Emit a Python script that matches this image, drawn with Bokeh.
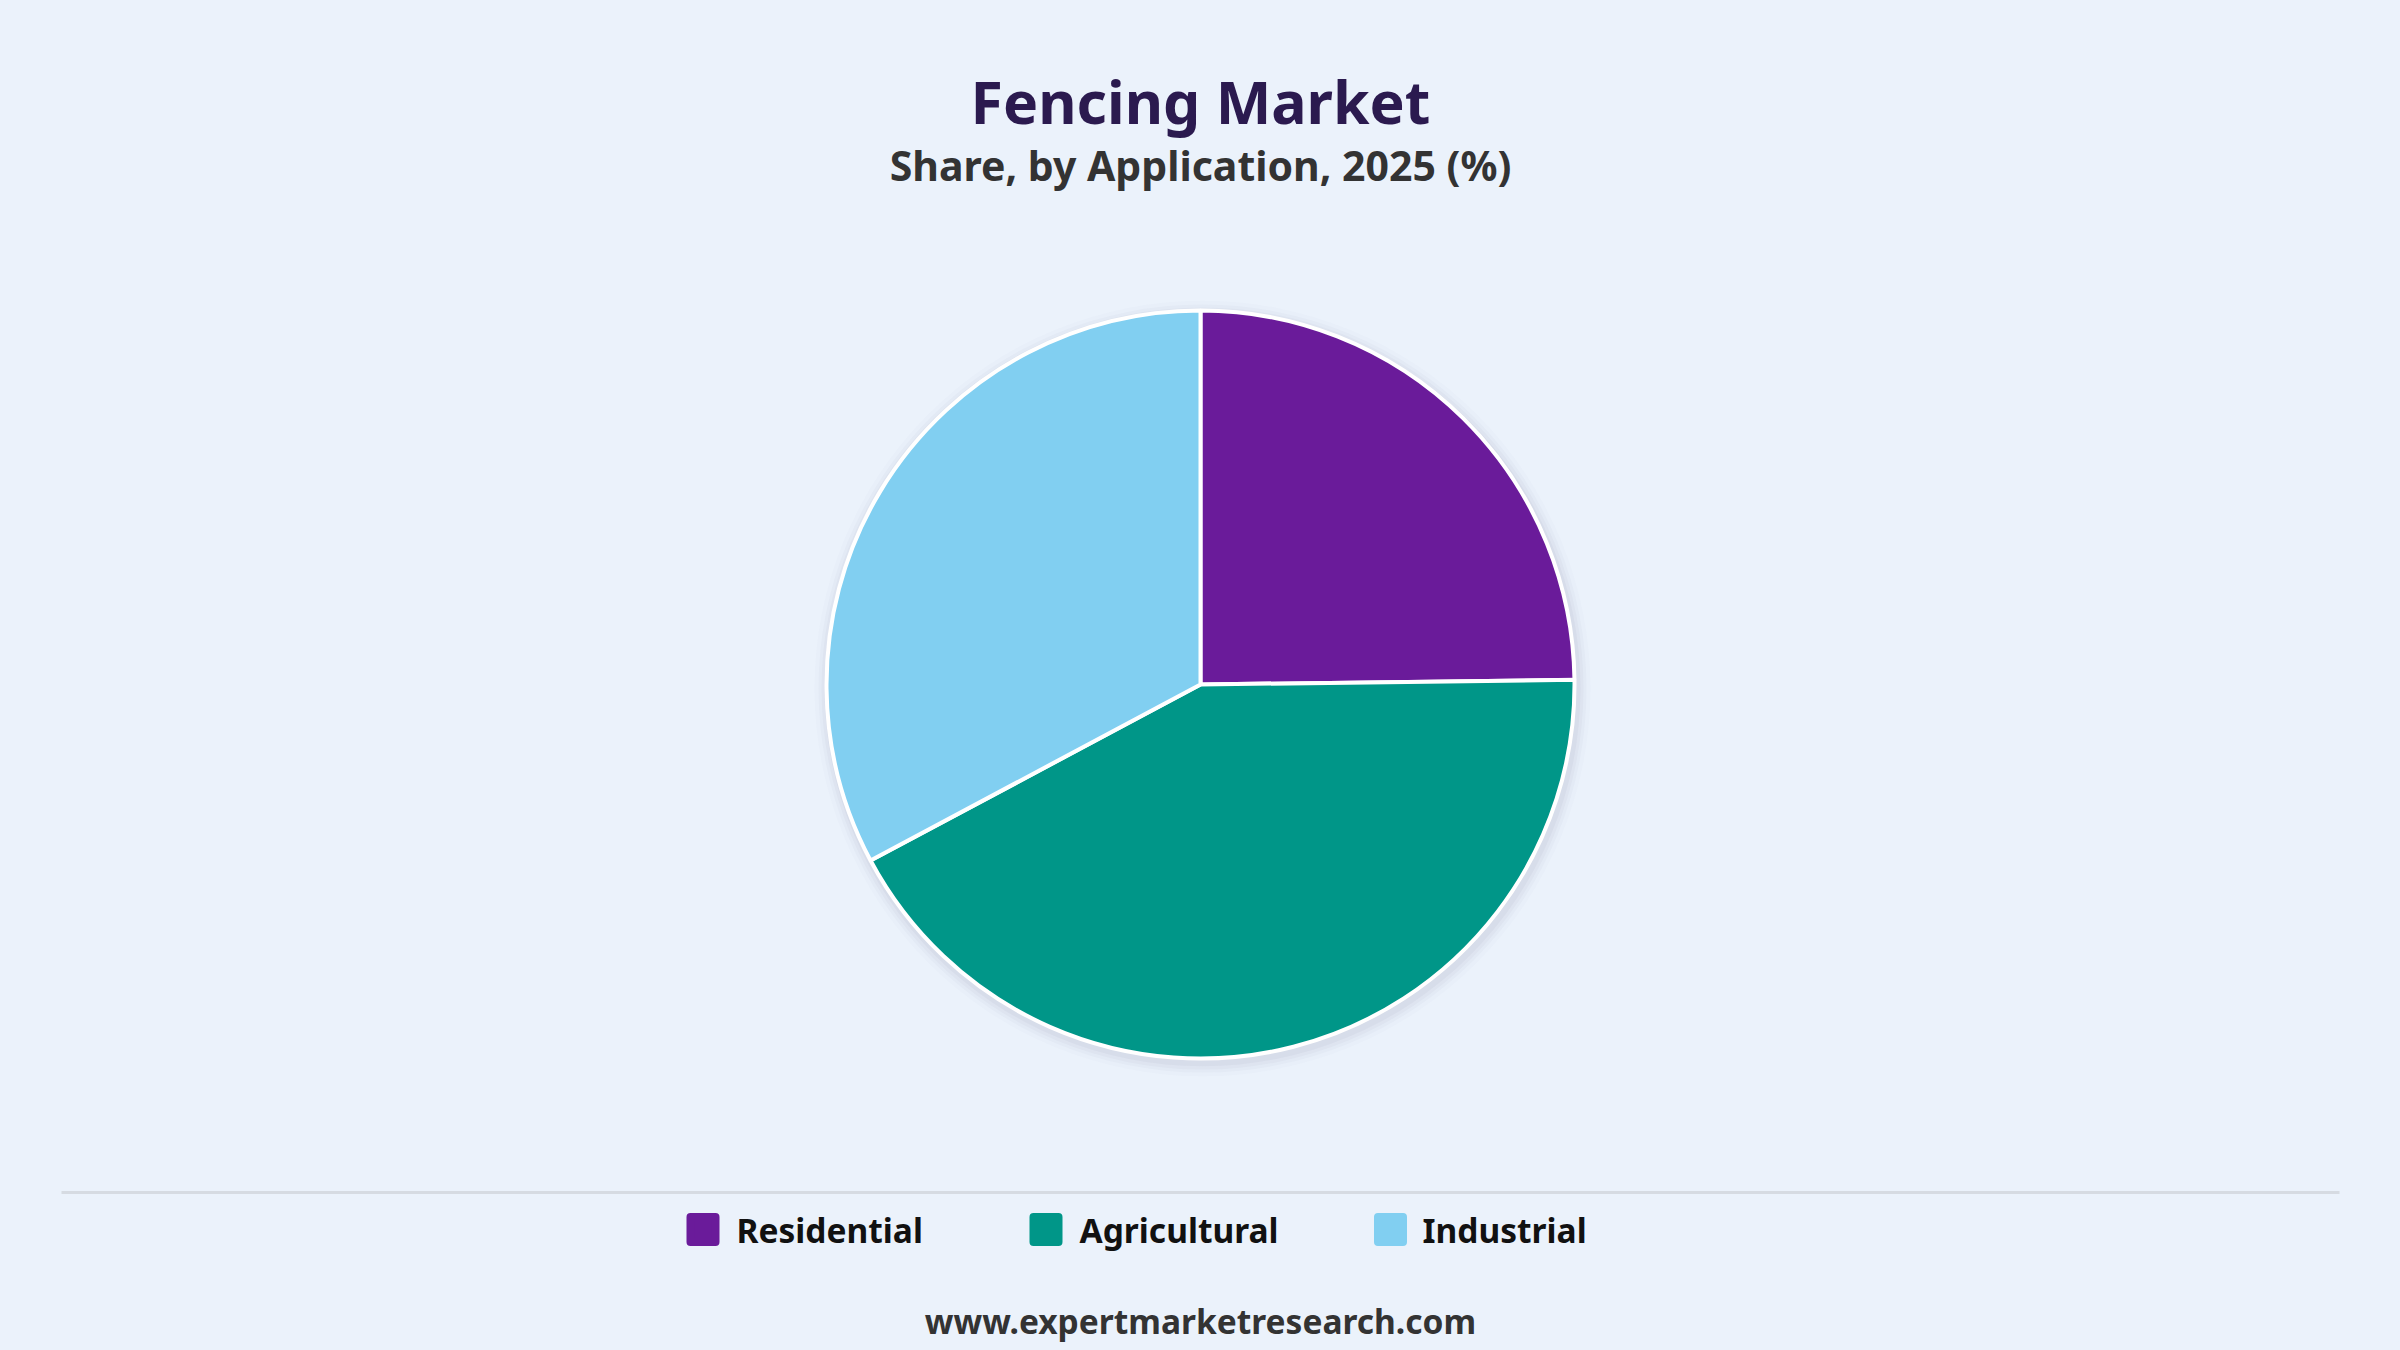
import numpy as np
from bokeh.plotting import figure
from bokeh.models import Range1d, ColumnDataSource
from bokeh.core.properties import value
from bokeh.embed import file_html
from bokeh.resources import INLINE

# ---- data ----
categories = ["Residential", "Agricultural", "Industrial"]
shares = [24.8, 42.4, 32.8]
colors = ["#6A1B9A", "#009688", "#81CFF1"]
title_text = "Fencing Market"
subtitle_text = "Share, by Application, 2025 (%)"
footer_text = "www.expertmarketresearch.com"

BG = "#EBF2FB"
FONT = "Noto Sans"
W, H = 2400, 1350

p = figure(width=W, height=H, x_range=Range1d(-8, W - 8), y_range=Range1d(-8, H - 8),
           output_backend="svg", toolbar_location=None, min_border=0)
p.axis.visible = False
p.grid.visible = False
p.outline_line_color = None
p.background_fill_color = BG
p.border_fill_color = BG

# ---- pie ----
cx, cy, r = 1192, 658, 374
frac = np.array(shares) / np.sum(shares)
cum = np.cumsum(frac)
start = np.pi / 2 - 2 * np.pi * (cum - frac)
end = np.pi / 2 - 2 * np.pi * cum
src = ColumnDataSource(dict(cat=categories, start=start, end=end, color=colors))

# soft shadow
for k, a in [(14, 0.02), (10, 0.03), (7, 0.04), (4, 0.05)]:
    p.circle(x=cx + 2, y=cy - 4, radius=r + k, fill_color="#5A6A80",
             fill_alpha=a, line_color=None)

p.wedge(x=cx, y=cy, radius=r, start_angle="start", end_angle="end",
        direction="clock", fill_color="color", line_color="white",
        line_width=4, source=src)

# ---- titles ----
p.text(x=[1192], y=[1242], text=[title_text], text_align="center",
       text_baseline="middle", text_font=value(FONT), text_font_style="bold",
       text_font_size="59px", text_color="#2B1A4F")
p.text(x=[1192], y=[1178], text=[subtitle_text], text_align="center",
       text_baseline="middle", text_font=value(FONT), text_font_style="bold",
       text_font_size="41px", text_color="#333333")

# ---- separator ----
p.line(x=[53, 2331], y=[150, 150], line_color="#D6DBE2", line_width=3)

# ---- legend ----
sw_x = [694.5, 1037.5, 1382]
tx_x = [728, 1071, 1414]
ly = 113
p.rect(x=sw_x, y=[ly] * 3, width=25, height=25, fill_color=colors,
       line_color=colors, line_width=8, line_join="round")
p.text(x=tx_x, y=[ly] * 3, text=categories, text_align="left",
       text_baseline="middle", text_font=value(FONT), text_font_style="bold",
       text_font_size="33.5px", text_color="#111111")

# ---- footer ----
p.text(x=[1192], y=[22], text=[footer_text], text_align="center",
       text_baseline="alphabetic", text_font=value(FONT), text_font_style="bold",
       text_font_size="33.5px", text_color="#333333")

html = file_html(p, INLINE, title="Fencing Market")
html = html.replace("<body>", '<body style="background-color:%s;">' % BG)
open("out.html", "w").write(html)
